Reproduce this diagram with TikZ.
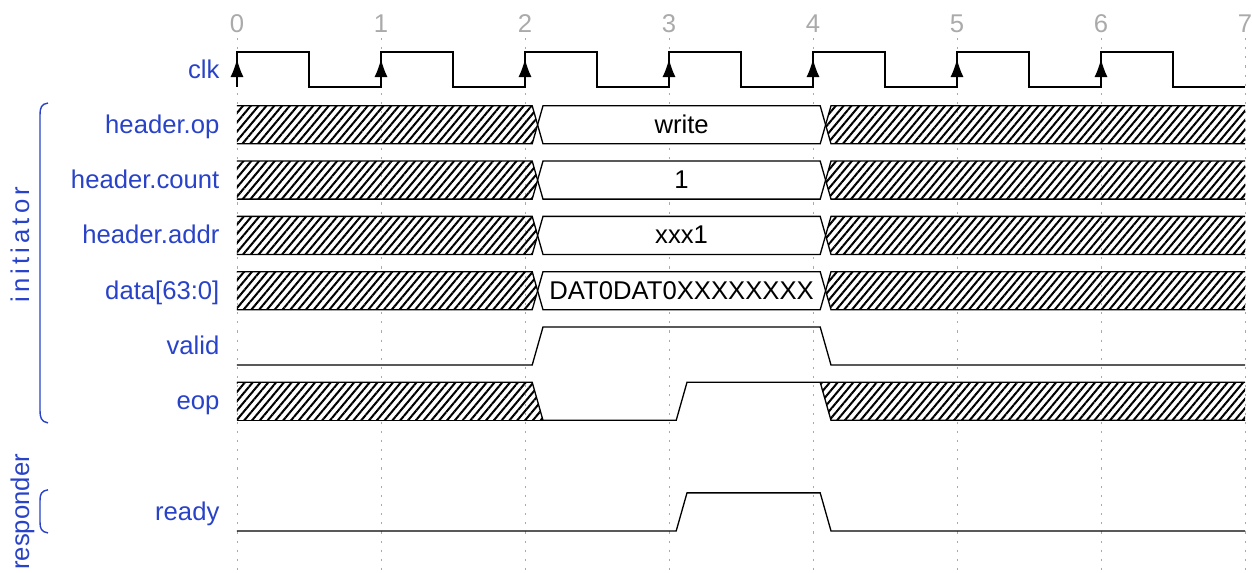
\documentclass[tikz,border=0pt]{standalone}
\usepackage{fontspec}
\setmainfont{Liberation Sans}
\usepackage{tikz}
\usetikzlibrary{positioning, calc, arrows.meta, patterns.meta}
\definecolor{sigblue}{RGB}{40,66,200}
\definecolor{tickgray}{RGB}{170,170,170}
\newcommand{\sigfont}{\fontsize{14.6}{17}\selectfont}
\newcommand{\halfsig}{0.344}
\newcommand{\halfclk}{0.316}
\tikzstyle{signame} = [anchor=base east, inner sep=0pt,
text=sigblue, font=\sigfont]
\tikzstyle{grouptext} = [rotate=90, anchor=base, inner sep=0pt,
text=sigblue, font=\sigfont]
\tikzstyle{groupline} = [draw=sigblue, line width=0.8pt]
\tikzstyle{valtext} = [anchor=base, inner sep=0pt, font=\sigfont]
\tikzstyle{ticknum} = [anchor=base, inner sep=0pt, text=tickgray, font=\sigfont]
\tikzstyle{tickline} = [draw=tickgray, line width=0.5pt,
dash pattern=on 1.2pt off 4pt]
\tikzstyle{wave} = [draw=black, line width=0.75pt]
\tikzstyle{hatch} = [pattern={Lines[angle=50, distance=3.4pt, line width=1.15pt]}]
%% one bus row: hatched, value from 2 to 4, hatched
\newcommand{\busrow}[3]{%
	\fill[hatch] (0,#1-\halfsig) -- (2.05,#1-\halfsig) -- (2.0875,#1)
		-- (2.05,#1+\halfsig) -- (0,#1+\halfsig) -- cycle;
	\fill[hatch] (7,#1-\halfsig) -- (4.125,#1-\halfsig) -- (4.0875,#1)
		-- (4.125,#1+\halfsig) -- (7,#1+\halfsig) -- cycle;
	\fill[white] (2.0875,#1) -- (2.125,#1-\halfsig) -- (4.05,#1-\halfsig)
		-- (4.0875,#1) -- (4.05,#1+\halfsig) -- (2.125,#1+\halfsig) -- cycle;
	\draw[wave] (0,#1-\halfsig) -- (2.05,#1-\halfsig) -- (2.125,#1+\halfsig)
		-- (4.05,#1+\halfsig) -- (4.125,#1-\halfsig) -- (7,#1-\halfsig);
	\draw[wave] (0,#1+\halfsig) -- (2.05,#1+\halfsig) -- (2.125,#1-\halfsig)
		-- (4.05,#1-\halfsig) -- (4.125,#1+\halfsig) -- (7,#1+\halfsig);
	\node[valtext] (#3) at (3.0875,#1+0.155) {#2};
}

\begin{document}
\begin{tikzpicture}[x=2.88cm, y=-1.106cm]
	\useasboundingbox (-1.6458,-1.2568) rectangle (7.0486,9.0868);
	%% time grid
	\foreach \t in {0,...,7} {
		\draw[tickline] (\t,-0.57) -- (\t,9.0868);
		\node[ticknum] (num\t) at (\t,-0.678) {\t};
	}
	%% signal names
	\node[signame] (nclk) at (-0.12,0.155) {clk};
	\node[signame] (nop) at (-0.12,1.155) {header.op};
	\node[signame] (ncount) at (-0.12,2.155) {header.count};
	\node[signame] (naddr) at (-0.12,3.155) {header.addr};
	\node[signame] (ndata) at (-0.12,4.155) {data[63:0]};
	\node[signame] (nvalid) at (-0.12,5.155) {valid};
	\node[signame] (neop) at (-0.12,6.155) {eop};
	\node[signame] (nready) at (-0.12,8.155) {ready};
	%% groups
	\node[grouptext] (ginit) at (-1.444,3.17) {\addfontfeatures{LetterSpace=16}initiator};
	\draw[groupline] (-1.3125,0.606) .. controls (-1.36,0.62) and (-1.368,0.70) .. (-1.368,0.82)
		-- (-1.368,6.17) .. controls (-1.368,6.29) and (-1.36,6.37) .. (-1.3125,6.39);
	\node[grouptext] (gresp) at (-1.444,8.0) {responder};
	\draw[groupline] (-1.3125,7.60) .. controls (-1.36,7.62) and (-1.368,7.68) .. (-1.368,7.80)
		-- (-1.368,8.18) .. controls (-1.368,8.30) and (-1.36,8.36) .. (-1.3125,8.38);
	%% clock
	\draw[wave] (0,\halfclk) foreach \t in {0,...,6} {
		-- (\t,-\halfclk) -- (\t+0.5,-\halfclk) -- (\t+0.5,\halfclk) -- (\t+1,\halfclk) };
	\foreach \t in {0,...,6}
		\draw[wave, -{Latex[length=3.6mm, width=2.6mm]}] (\t,\halfclk) -- (\t,-0.19);
	%% bus rows
	\busrow{1}{write}{vop}
	\busrow{2}{1}{vcount}
	\busrow{3}{xxx1}{vaddr}
	\busrow{4}{DAT0DAT0XXXXXXXX}{vdata}
	%% valid
	\draw[wave] (0,5+\halfsig) -- (2.05,5+\halfsig) -- (2.125,5-\halfsig)
		-- (4.05,5-\halfsig) -- (4.125,5+\halfsig) -- (7,5+\halfsig);
	%% eop
	\fill[hatch] (0,6-\halfsig) -- (2.05,6-\halfsig) -- (2.125,6+\halfsig)
		-- (0,6+\halfsig) -- cycle;
	\fill[hatch] (4.05,6-\halfsig) -- (7,6-\halfsig) -- (7,6+\halfsig)
		-- (4.125,6+\halfsig) -- cycle;
	\draw[wave] (0,6-\halfsig) -- (2.05,6-\halfsig) -- (2.125,6+\halfsig)
		-- (3.05,6+\halfsig) -- (3.125,6-\halfsig) -- (7,6-\halfsig);
	\draw[wave] (0,6+\halfsig) -- (2.125,6+\halfsig);
	\draw[wave] (4.05,6-\halfsig) -- (4.125,6+\halfsig) -- (7,6+\halfsig);
	%% ready
	\draw[wave] (0,8+\halfsig) -- (3.05,8+\halfsig) -- (3.125,8-\halfsig)
		-- (4.05,8-\halfsig) -- (4.125,8+\halfsig) -- (7,8+\halfsig);
\end{tikzpicture}
\end{document}
